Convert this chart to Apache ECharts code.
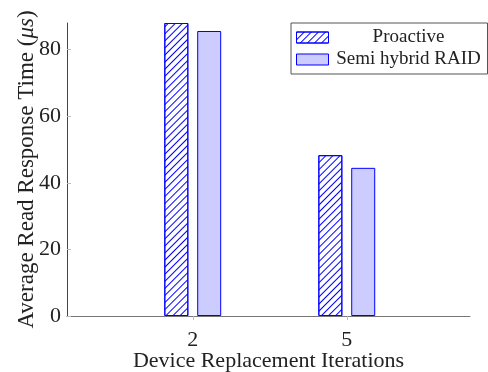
<!DOCTYPE html>
<html>
<head>
<meta charset="utf-8">
<script src="https://cdn.jsdelivr.net/npm/echarts@6/dist/echarts.min.js"></script>
</head>
<body style="margin:0">
<div id="main" style="width: 488px; height: 372px"></div>
<script>
// 迭代次数 (x 值)
const iterations = [2, 5]
const proactive = [88, 48.3]
const semiHybrid = [85.6, 44.5]
const yTicks = [0, 20, 40, 60, 80]

const toPoints = (vals) => iterations.map((x, i) => [x, vals[i]])

const font = 'Liberation Serif'
const myChart = echarts.init(document.getElementById('main'))
const option = {
  animation: false,
  grid: { left: 67, right: 18, top: 23, bottom: 56, outerBoundsMode: 'none', containLabel: false },
  legend: {
    orient: 'vertical',
    left: 291,
    top: 23,
    width: 197,
    padding: [5, 4, 5, 5],
    itemGap: 3,
    itemWidth: 32,
    itemHeight: 11,
    icon: 'rect',
    itemStyle: { borderWidth: 1 },
    borderColor: '#555',
    borderWidth: 1,
    borderRadius: 0,
    formatter: name => '{c|' + name + '}',
    textStyle: {
      fontFamily: font,
      fontSize: 19,
      color: '#222',
      rich: { c: { width: 150, align: 'center', fontFamily: font, fontSize: 19, lineHeight: 20 } }
    }
  },
  xAxis: {
    type: 'value',
    min: -0.45,
    max: 7.4,
    name: 'Device Replacement Iterations',
    nameLocation: 'middle',
    nameGap: 34,
    nameMoveOverlap: false,
    nameTextStyle: { fontFamily: font, fontSize: 22, color: '#222', verticalAlign: 'top' },
    splitLine: { show: false },
    axisLine: { show: true, onZero: false, lineStyle: { color: '#777', width: 1 } },
    axisTick: { show: true, customValues: iterations, length: 4, lineStyle: { color: '#bbb' } },
    axisLabel: { customValues: iterations, margin: 13, fontFamily: font, fontSize: 22, color: '#222' }
  },
  yAxis: {
    type: 'value',
    min: 0,
    max: 88,
    name: 'Average Read Response Time ({i|μs})',
    nameLocation: 'middle',
    nameGap: 29,
    nameMoveOverlap: false,
    nameTextStyle: {
      fontFamily: font, fontSize: 23, color: '#222',
      rich: { i: { fontStyle: 'italic', fontFamily: font, fontSize: 23, color: '#222' } }
    },
    splitLine: { show: false },
    axisLine: { show: true, onZero: false, lineStyle: { color: '#444', width: 1 } },
    axisTick: { show: true, inside: true, customValues: yTicks, length: 4, lineStyle: { color: '#bbb' } },
    axisLabel: { customValues: yTicks, margin: 6, fontFamily: font, fontSize: 22, color: '#222' }
  },
  series: [
    {
      name: 'Proactive',
      type: 'bar',
      barWidth: 24,
      barGap: '37%',
      data: toPoints(proactive),
      itemStyle: {
        color: '#ffffff',
        borderColor: '#0000ff',
        borderWidth: 1,
        decal: {
          symbol: 'rect',
          symbolSize: 1,
          dashArrayX: [1, 0],
          dashArrayY: [1, 4],
          rotation: -Math.PI / 4,
          color: '#0000ff'
        }
      }
    },
    {
      name: 'Semi hybrid RAID',
      type: 'bar',
      barWidth: 24,
      data: toPoints(semiHybrid),
      itemStyle: { color: '#ccccff', borderColor: '#0000ff', borderWidth: 1 }
    }
  ]
}
myChart.setOption(option)
</script>
</body>
</html>
